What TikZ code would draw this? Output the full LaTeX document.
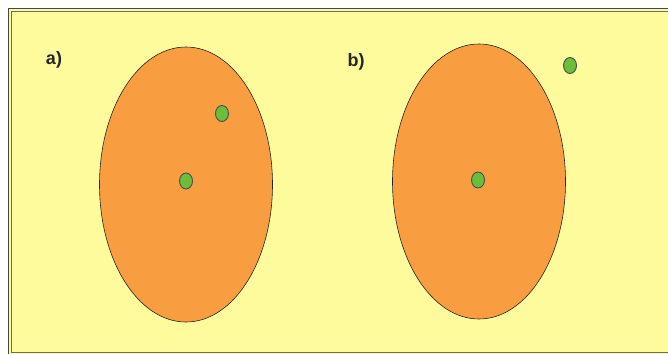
\documentclass[tikz,border=0pt]{standalone}
\usepackage{fontspec}
\setmainfont{Liberation Sans}
\usepackage{xcolor}
\usetikzlibrary{shapes.geometric, positioning}

\definecolor{bgyellow}{RGB}{253,251,156}
\definecolor{setorange}{RGB}{249,158,64}
\definecolor{ptgreen}{RGB}{108,190,58}
\definecolor{framegray}{RGB}{70,70,70}

\begin{document}
\begin{tikzpicture}[
    x=1pt, y=-1pt,
    setblob/.style={draw=black!85, line width=0.6pt, fill=setorange, ellipse, inner sep=0pt, minimum width=173pt, minimum height=275pt},
    ptdot/.style={draw=black!70, line width=0.9pt, fill=ptgreen, ellipse, inner sep=0pt, minimum width=13pt, minimum height=16pt},
    panellabel/.style={font=\bfseries\fontsize{18}{20}\selectfont, inner sep=0pt, text=black!85}
]
\useasboundingbox (0,0) rectangle (668,353);

% --- Frame ---
\fill[white] (0,0) rectangle (668,353);
\draw[framegray, line width=1.3pt, fill=bgyellow] (8.5,8.5) rectangle (690,370);
\draw[framegray!80, line width=0.9pt] (11.5,11.5) rectangle (690,352);

% --- Panel a ---
\node[panellabel] (lbla) at (54,60) {a)};
\node[setblob] (seta) at (186,184.5) {};
\node[ptdot] (ina) at (186,181) {};
\node[ptdot] (upa) at (222,113.5) {};

% --- Panel b ---
\node[panellabel] (lblb) at (356,62) {b)};
\node[setblob] (setb) at (479,181.5) {};
\node[ptdot] (inb) at (478,180) {};
\node[ptdot] (outb) at (570,65.5) {};

\end{tikzpicture}
\end{document}
